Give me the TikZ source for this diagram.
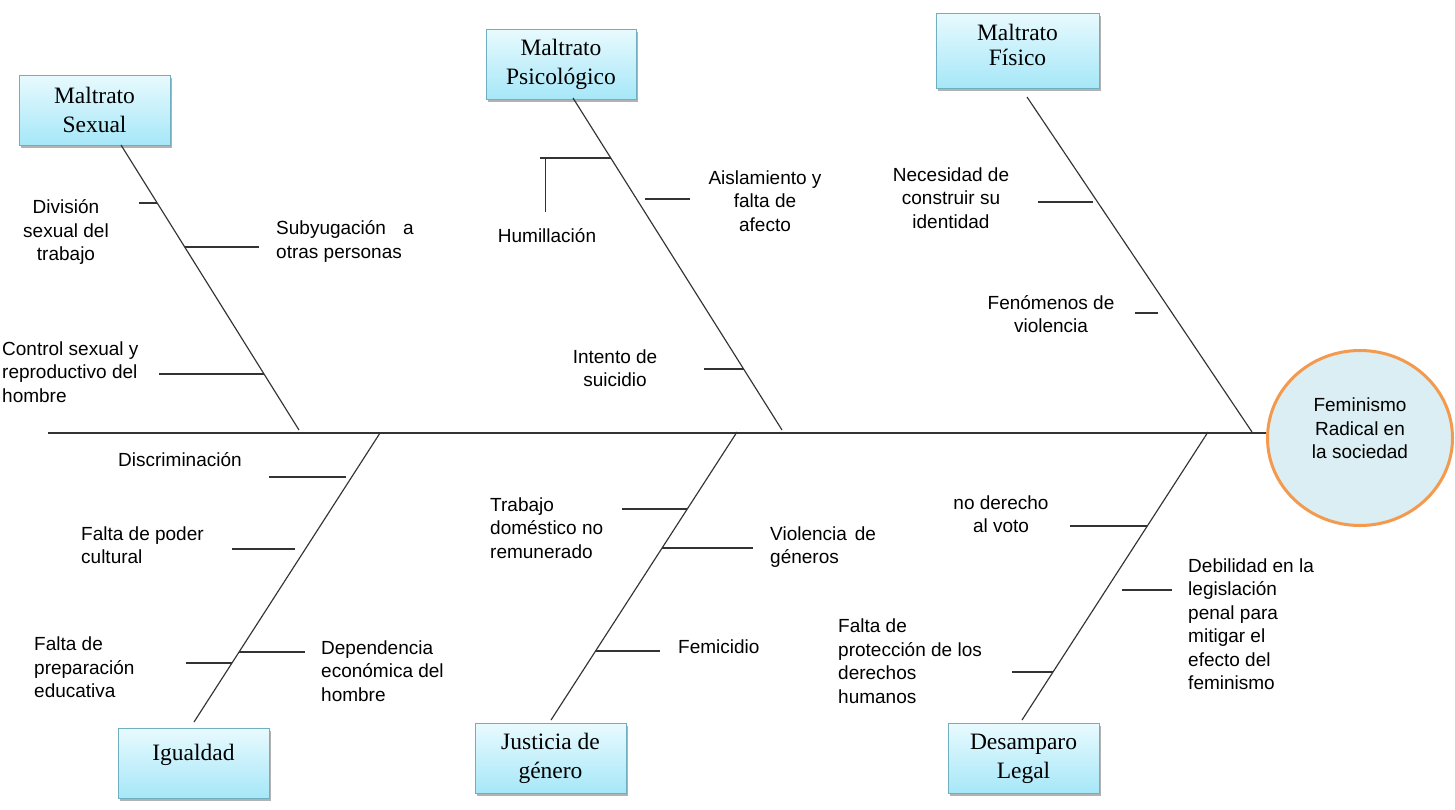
\documentclass[tikz,border=0pt]{standalone}
\usepackage{fontspec}
\setmainfont{Liberation Sans}
\newfontfamily\boxfont{Liberation Serif}
\usetikzlibrary{calc,shadows,shapes.geometric}
\definecolor{linec}{HTML}{333333}
\definecolor{boxtop}{HTML}{E8FAFE}
\definecolor{boxbot}{HTML}{A6E7F8}
\definecolor{boxline}{HTML}{6FAFC0}
\definecolor{circfill}{HTML}{DAEEF3}
\definecolor{circline}{HTML}{F39A4E}
\begin{document}
\begin{tikzpicture}[x=1pt,y=-1pt,
  catbox/.style={draw=boxline, line width=0.8pt, top color=boxtop, bottom color=boxbot,
    minimum width=151pt, minimum height=70pt, align=center, inner sep=0pt,
    font=\boxfont\fontsize{23.5}{29}\selectfont,
    drop shadow={shadow xshift=1.5pt, shadow yshift=-2.5pt, fill=black, opacity=0.3}},
  goal/.style={ellipse, draw=circline, line width=3pt, fill=circfill,
    minimum width=185pt, minimum height=175pt, align=center, inner sep=0pt,
    font=\fontsize{19}{23.5}\selectfont},
  bone/.style={draw=linec, line width=1.15pt},
  lab/.style={font=\fontsize{19}{23.5}\selectfont, inner sep=0pt, text=black}]
\fill[white] (0,0) rectangle (1455,809);
\useasboundingbox (0,0) rectangle (1455,809);

% category boxes
\node[catbox] (sexual) at (94.5,110) {Maltrato\\Sexual};
\node[catbox, minimum width=150pt] (psico) at (561,64) {Maltrato\\Psicológico};
\node[catbox, minimum width=163pt, minimum height=75pt] (fisico) at (1017.5,50.5) {Maltrato\\[-4pt]Físico\\[-18pt]\mbox{}};
\node[catbox] (igual) at (193.5,763) {Igualdad\\[-7pt]\mbox{}};
\node[catbox] (justicia) at (550.5,758.5) {Justicia de\\género};
\node[catbox] (desamp) at (1023.5,758.5) {Desamparo\\Legal};

% effect
\node[goal] (goal) at (1360,438) {Feminismo\\Radical en\\la sociedad\\[-4pt]\mbox{}};

% spine
\coordinate (spL) at (48,433);
\draw[bone] (spL) -- (spL -| goal.west);

% bones
\coordinate (sT) at (121,145);  \coordinate (sB) at (299,430);
\coordinate (pT) at (573,98);   \coordinate (pB) at (782,430);
\coordinate (fT) at (1027,97);  \coordinate (fB) at (1252,432);
\coordinate (iT) at (380,433);  \coordinate (iB) at (194,722);
\coordinate (jT) at (737,432);  \coordinate (jB) at (551,720);
\coordinate (dT) at (1208,432); \coordinate (dB) at (1022,720);
\draw[bone] (sT) -- (sB);
\draw[bone] (pT) -- (pB);
\draw[bone] (fT) -- (fB);
\draw[bone] (iT) -- (iB);
\draw[bone] (jT) -- (jB);
\draw[bone] (dT) -- (dB);

% sub-branches: Maltrato Sexual
\coordinate (s1) at ($(sT)!0.2035!(sB)$);
\coordinate (s2) at ($(sT)!0.358!(sB)$);
\coordinate (s3) at ($(sT)!0.8035!(sB)$);
\draw[bone] (s1) -- ++(-18,0);
\draw[bone] (s2) -- ++(74,0);
\draw[bone] (s3) -- ++(-105,0);

% Maltrato Psicologico
\coordinate (p1) at ($(pT)!0.1807!(pB)$);
\coordinate (p2) at ($(pT)!0.3042!(pB)$);
\coordinate (p3) at ($(pT)!0.8163!(pB)$);
\coordinate (p1v) at ($(p1)+(-65,0)$);
\draw[bone] (p1) -- ++(-71,0);
\draw[bone] (p1v) -- ++(0,54);
\draw[bone] ($(p2)+(8,0)$) -- ++(45,0);
\draw[bone] (p3) -- ++(-40,0);

% Maltrato Fisico
\coordinate (f1) at ($(fT)!0.3134!(fB)$);
\coordinate (f2) at ($(fT)!0.6448!(fB)$);
\draw[bone] ($(f1)+(-5,0)$) -- ++(-55,0);
\draw[bone] ($(f2)+(-14,0)$) -- ++(-23,0);

% Igualdad
\coordinate (i1) at ($(iT)!0.1522!(iB)$);
\coordinate (i2) at ($(iT)!0.4014!(iB)$);
\coordinate (i3) at ($(iT)!0.7578!(iB)$);
\coordinate (i4) at ($(iT)!0.7958!(iB)$);
\draw[bone] ($(i1)+(-6,0)$) -- ++(-77,0);
\draw[bone] ($(i2)+(-10,0)$) -- ++(-63,0);
\draw[bone] (i3) -- ++(66,0);
\draw[bone] (i4) -- ++(-46,0);

% Justicia de genero
\coordinate (j1) at ($(jT)!0.2674!(jB)$);
\coordinate (j2) at ($(jT)!0.4028!(jB)$);
\coordinate (j3) at ($(jT)!0.7604!(jB)$);
\draw[bone] (j1) -- ++(-65,0);
\draw[bone] (j2) -- ++(91,0);
\draw[bone] (j3) -- ++(64,0);

% Desamparo Legal
\coordinate (d1) at ($(dT)!0.3264!(dB)$);
\coordinate (d2) at ($(dT)!0.5486!(dB)$);
\coordinate (d3) at ($(dT)!0.8333!(dB)$);
\draw[bone] (d1) -- ++(-77,0);
\draw[bone] ($(d2)+(16,0)$) -- ++(50,0);
\draw[bone] (d3) -- ++(-41,0);

% labels
\node[lab, align=center] (l1) at (66,232) {División\\sexual del\\trabajo};
\node[lab, align=left, anchor=west] (l2) at (276,241.5) {Subyugación\hspace{17pt}a\\otras personas};
\node[lab, align=left, anchor=west] (l3) at (2,372) {Control sexual y\\reproductivo del\\hombre};
\node[lab] (l4) at (547,236) {Humillación};
\node[lab, align=center] (l5) at (765,201) {Aislamiento y\\falta de\\afecto};
\node[lab, align=center] (l6) at (615,368) {Intento de\\suicidio};
\node[lab, align=center] (l7) at (951,198) {Necesidad de\\construir su\\identidad};
\node[lab, align=center] (l8) at (1051,314) {Fenómenos de\\violencia};
\node[lab, anchor=west] (l9) at (118,460) {Discriminación};
\node[lab, align=left, anchor=west] (l10) at (81,545) {Falta de poder\\cultural};
\node[lab, align=left, anchor=west] (l11) at (34,667.5) {Falta de\\preparación\\educativa};
\node[lab, align=left, anchor=west] (l12) at (321,670.7) {Dependencia\\económica del\\hombre};
\node[lab, align=left, anchor=west] (l13) at (490,528) {Trabajo\\doméstico no\\remunerado};
\node[lab, align=left, anchor=west] (l14) at (770,547) {Violencia\hspace{8pt}de\\géneros};
\node[lab, anchor=west] (l15) at (678,647) {Femicidio};
\node[lab, align=center] (l16) at (1001,514) {no derecho\\al voto};
\node[lab, align=left, anchor=west] (l17) at (1188,624) {Debilidad en la\\legislación\\penal para\\mitigar el\\efecto del\\feminismo};
\node[lab, align=left, anchor=west] (l18) at (838,661) {Falta de\\protección de los\\derechos\\humanos};
\end{tikzpicture}
\end{document}
